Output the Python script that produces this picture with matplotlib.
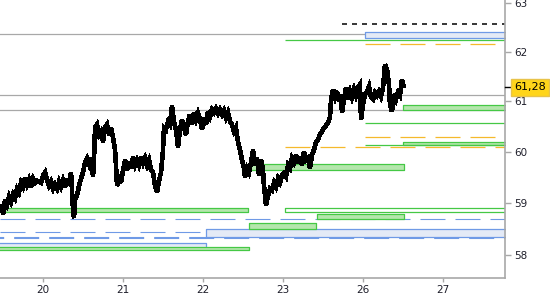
import matplotlib.pyplot as plt
import matplotlib.transforms as mtransforms
from matplotlib.ticker import NullLocator, NullFormatter

# 交易日刻度 (位置 = 交易日序号)
day_pos = [0, 1, 2, 3, 4, 5]
day_labels = ['20', '21', '22', '23', '26', '27']
price_ticks = [58, 59, 60, 61, 62, 63]

# 盘中价格 (时间以交易日为单位)
price_t = [-0.534, -0.509, -0.496, -0.471, -0.446, -0.421, -0.396, -0.371, -0.346, -0.321,
           -0.296, -0.271, -0.246, -0.221, -0.196, -0.171, -0.146, -0.121, -0.096, -0.071,
           -0.021, 0.004, 0.029, 0.054, 0.079, 0.104, 0.129, 0.154, 0.179, 0.204,
           0.229, 0.254, 0.279, 0.304, 0.329, 0.354, 0.366, 0.379, 0.391, 0.404,
           0.429, 0.454, 0.479, 0.504, 0.529, 0.554, 0.579, 0.604, 0.629, 0.641,
           0.654, 0.679, 0.704, 0.729, 0.754, 0.779, 0.804, 0.829, 0.854, 0.879,
           0.904, 0.916, 0.929, 0.954, 0.979, 1.004, 1.029, 1.054, 1.079, 1.104,
           1.129, 1.154, 1.179, 1.204, 1.229, 1.254, 1.279, 1.304, 1.329, 1.354,
           1.379, 1.404, 1.429, 1.454, 1.479, 1.504, 1.516, 1.541, 1.566, 1.591,
           1.616, 1.641, 1.666, 1.691, 1.716, 1.741, 1.766, 1.791, 1.816, 1.841,
           1.866, 1.891, 1.916, 1.941, 1.966, 1.991, 2.016, 2.041, 2.066, 2.091,
           2.116, 2.141, 2.166, 2.191, 2.216, 2.241, 2.266, 2.291, 2.316, 2.341,
           2.366, 2.391, 2.416, 2.441, 2.466, 2.491, 2.516, 2.529, 2.554, 2.579,
           2.604, 2.629, 2.654, 2.679, 2.704, 2.729, 2.754, 2.766, 2.791, 2.816,
           2.841, 2.866, 2.891, 2.916, 2.941, 2.966, 2.991, 3.016, 3.041, 3.066,
           3.091, 3.116, 3.141, 3.166, 3.191, 3.216, 3.241, 3.266, 3.291, 3.316,
           3.341, 3.366, 3.391, 3.416, 3.441, 3.466, 3.491, 3.516, 3.541, 3.566,
           3.591, 3.604, 3.629, 3.654, 3.679, 3.704, 3.729, 3.741, 3.766, 3.791,
           3.816, 3.841, 3.866, 3.891, 3.916, 3.941, 3.966, 3.979, 4.004, 4.029,
           4.054, 4.079, 4.104, 4.129, 4.154, 4.179, 4.204, 4.229, 4.254, 4.279,
           4.304, 4.329, 4.341, 4.366, 4.391, 4.416, 4.441, 4.466, 4.491, 4.516]
price_v = [58.83, 58.97, 58.79, 59.07, 58.97, 59.13, 59.03, 59.17, 59.10, 59.28,
           59.21, 59.40, 59.32, 59.50, 59.36, 59.46, 59.32, 59.48, 59.40, 59.44,
           59.40, 59.54, 59.60, 59.44, 59.34, 59.42, 59.28, 59.36, 59.28, 59.42,
           59.32, 59.44, 59.32, 59.48, 59.36, 59.60, 59.25, 58.87, 58.72, 59.07,
           59.15, 59.34, 59.48, 59.60, 59.80, 59.88, 59.76, 59.88, 59.52, 59.84,
           60.48, 60.54, 60.34, 60.40, 60.20, 60.48, 60.54, 60.34, 60.48, 60.28,
           60.04, 59.74, 59.34, 59.54, 59.40, 59.64, 59.84, 59.64, 59.80, 59.68,
           59.90, 59.74, 59.84, 59.74, 59.90, 59.78, 59.88, 59.74, 59.84, 59.64,
           59.60, 59.34, 59.21, 59.44, 59.60, 60.04, 60.48, 60.44, 60.60, 60.54,
           60.92, 60.60, 60.44, 60.10, 60.44, 60.64, 60.48, 60.34, 60.60, 60.74,
           60.54, 60.78, 60.64, 60.76, 60.64, 60.44, 60.68, 60.54, 60.80, 60.70,
           60.84, 60.78, 60.86, 60.76, 60.84, 60.74, 60.82, 60.68, 60.78, 60.60,
           60.54, 60.40, 60.48, 60.20, 60.04, 59.84, 59.68, 59.50, 59.68, 59.60,
           59.80, 60.04, 59.74, 59.88, 59.54, 59.84, 59.64, 59.34, 58.97, 59.15,
           59.28, 59.25, 59.40, 59.32, 59.48, 59.40, 59.54, 59.58, 59.52, 59.74,
           59.68, 59.88, 59.80, 59.94, 59.78, 59.90, 59.74, 60.00, 59.84, 59.88,
           59.68, 59.94, 60.04, 60.20, 60.24, 60.34, 60.40, 60.48, 60.52, 60.58,
           60.68, 61.04, 61.24, 61.08, 61.20, 61.00, 61.14, 60.78, 61.04, 61.28,
           61.04, 61.20, 61.08, 61.24, 61.12, 61.28, 61.34, 60.64, 60.94, 61.14,
           61.20, 61.30, 61.08, 61.04, 61.18, 61.12, 61.20, 61.10, 61.28, 61.74,
           61.64, 61.34, 60.94, 60.80, 61.14, 61.04, 61.18, 61.12, 61.44, 61.28]
last_price = 61.28
last_label = '61,28'

# 水平参考线
gray_levels = [62.36, 61.13, 60.83]

# 绿色区域 (起点, 终点, 下沿, 上沿); 终点 6 表示延伸到右边
green_x0 = [-1.0, -1.0, 2.58, 3.43, 2.49, 4.51, 4.51]
green_x1 = [2.56, 2.58, 3.42, 4.52, 4.52, 6.0, 6.0]
green_lo = [58.83, 58.11, 58.51, 58.69, 59.65, 60.83, 60.13]
green_hi = [58.91, 58.17, 58.62, 58.79, 59.76, 60.93, 60.20]

# 绿色空心区域
open_x0 = [3.03]
open_lo = [58.83]
open_hi = [58.91]

# 绿色线
green_line_v = [62.24, 60.57, 60.13]
green_line_x0 = [3.03, 4.03, 4.03]

# 蓝色区域
blue_x0 = [4.03, 2.04, -1.0]
blue_x1 = [6.0, 6.0, 2.04]
blue_lo = [62.28, 58.35, 58.13]
blue_hi = [62.40, 58.50, 58.24]

# 蓝色虚线
blue_dash_v = [58.69, 58.45]
blue_thick_v = 58.33

# 橙色虚线
orange_v = [62.15, 60.29, 60.09]
orange_x0 = [4.03, 4.03, 3.03]

# 黑色虚线
black_dash_v = 62.56
black_dash_x0 = 3.74

GRAY = '#a8a8a8'
GREEN_EDGE = '#45c845'
GREEN_FILL = '#b4e6ac'
BLUE_EDGE = '#6f9ae6'
BLUE_FILL = '#e4eaf6'
ORANGE = '#f5b92c'
TXT = '#1e1e2a'

plt.rcParams['lines.scale_dashes'] = False
plt.rcParams['font.family'] = ['DejaVu Sans']

fig = plt.figure(figsize=(5.5, 3), dpi=100)
ax = fig.add_axes([0, 1 - 277.7 / 300, 505 / 550, 277.7 / 300])
ax.set_yscale('log')

for v in gray_levels:
    ax.axhline(v, color=GRAY, lw=0.9, zorder=1)

for v in blue_dash_v:
    ax.axhline(v, color=BLUE_EDGE, lw=0.8, ls=(0, (18, 7.2)), zorder=1.5)
ax.axhline(blue_thick_v, color=BLUE_EDGE, lw=1.5, ls=(15, (18, 7.2)), zorder=1.5)

for x0, x1, lo, hi in zip(blue_x0, blue_x1, blue_lo, blue_hi):
    ax.fill_between([x0, x1], lo, hi, facecolor=BLUE_FILL, edgecolor=BLUE_EDGE,
                    lw=0.9, zorder=2)

for x0, x1, lo, hi in zip(green_x0, green_x1, green_lo, green_hi):
    ax.fill_between([x0, x1], lo, hi, facecolor=GREEN_FILL, edgecolor=GREEN_EDGE,
                    lw=0.9, zorder=2.2)

for x0, lo, hi in zip(open_x0, open_lo, open_hi):
    ax.fill_between([x0, 6.0], lo, hi, facecolor='none', edgecolor=GREEN_EDGE,
                    lw=0.9, zorder=2.2)

for v, x0 in zip(green_line_v, green_line_x0):
    ax.hlines(v, x0, 6.0, color=GREEN_EDGE, lw=0.9, zorder=2.3)

for v, x0 in zip(orange_v, orange_x0):
    ax.hlines(v, x0, 6.0, color=ORANGE, lw=0.9, linestyles=[(0, (18, 7.2))], zorder=2.3)

ax.hlines(black_dash_v, black_dash_x0, 6.0, color='black', lw=1.1,
          linestyles=[(0, (3.6, 3.6))], zorder=2.3)

# 价格曲线: 粗线, 尖角, 不抗锯齿
ax.plot(price_t, price_v, color='black', lw=2.6, zorder=3,
        solid_joinstyle='miter', solid_capstyle='butt', antialiased=False)

ax.set_xlim(-0.534, 5.779)
ax.set_ylim(57.58, 63.06)

ax.set_xticks(day_pos)
ax.set_xticklabels(day_labels)
ax.yaxis.tick_right()
ax.yaxis.set_minor_locator(NullLocator())
ax.yaxis.set_minor_formatter(NullFormatter())
ax.set_yticks(price_ticks)
ax.set_yticklabels([str(p) for p in price_ticks])

for s in ['top', 'left']:
    ax.spines[s].set_visible(False)
for s in ['right', 'bottom']:
    ax.spines[s].set_color(GRAY)
    ax.spines[s].set_linewidth(1.2)

ax.tick_params(axis='x', length=3, width=1, color=GRAY, pad=2.4, labelsize=7.5,
               labelcolor=TXT)
ax.tick_params(axis='y', length=4.3, width=1, color=GRAY, pad=2.4, labelsize=7.5,
               labelcolor=TXT)

# 最新价标签
trans = mtransforms.blended_transform_factory(ax.transAxes, ax.transData)
ax.plot([1.0, 1.012], [last_price, last_price], color='black', lw=1.0,
        transform=trans, clip_on=False, zorder=9)
ax.text(1.0185, last_price, last_label, transform=trans, ha='left', va='center',
        fontsize=8, color='black', zorder=10, clip_on=False,
        bbox=dict(boxstyle='square,pad=0.3', fc='#ffd51a', ec='#e8c34a', lw=1.0))

fig.savefig('out.png', dpi=100)
